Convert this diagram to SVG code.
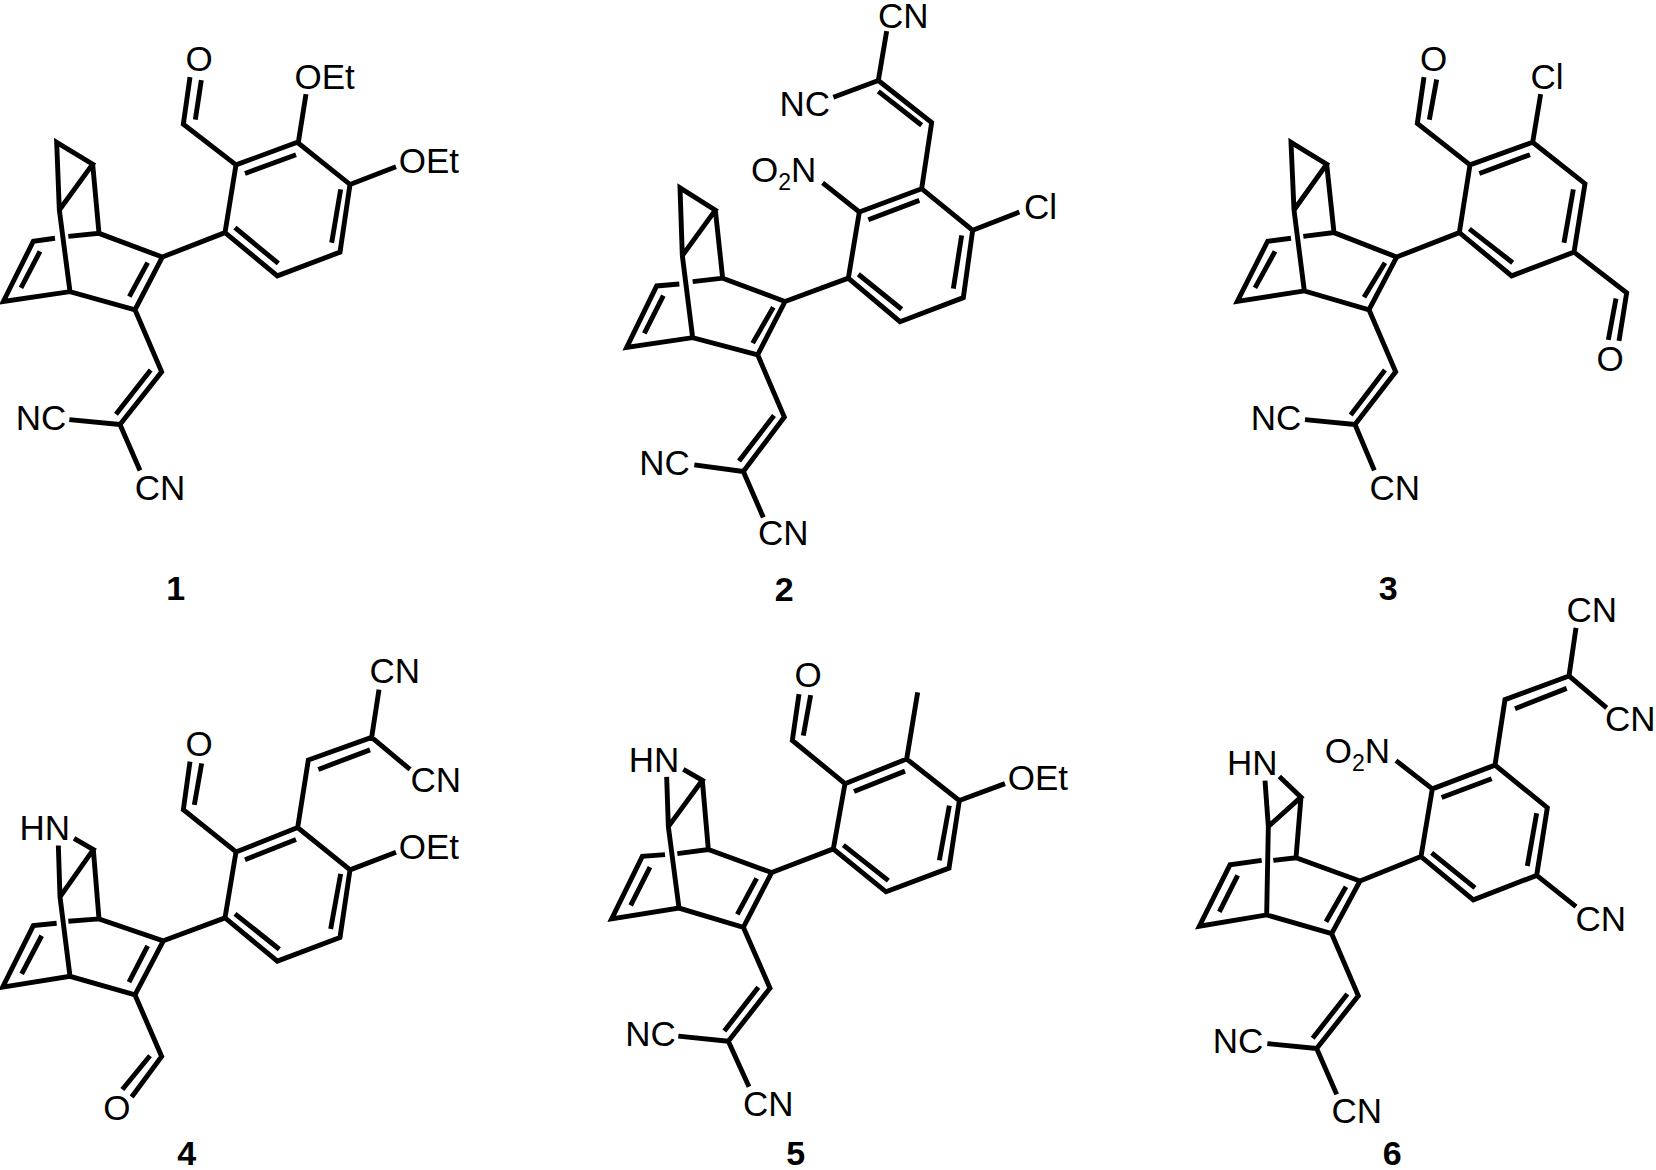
<svg xmlns="http://www.w3.org/2000/svg" width="1656" height="1170" viewBox="0 0 1656 1170">
<style>
path{fill:none;stroke:#000;stroke-width:4.9;vector-effect:non-scaling-stroke;stroke-linejoin:miter;stroke-miterlimit:3}
text{font-family:"Liberation Sans",Arial,sans-serif;font-size:35px;fill:#000}
.n{font-weight:700;font-size:34px;text-anchor:middle}
.s{font-size:23px}
</style>
<rect width="1656" height="1170" fill="#fff"/>
<g id="mol1">
<g class="bonds"><path transform="translate(0,20) scale(.33333,.37628)" d="M170,325L278,383L178,505ZM278,383L297,567M178,505L210,722M205,575L297,567L487,630L405,770L210,722L10,748L100,588L165,580M443,645L388,735M120,615L63,712M487,630L675,565M675,565L708,385L892,325L1050,437L1020,617L832,680ZM735,408L888,358M1022,450L995,592M835,647L705,552M570,152L550,277L708,385M604,160L586,265M918,197L895,325M1050,437L1188,390M405,770L485,935L360,1075M452,930L348,1048M360,1075L208,1062M360,1075L420,1197"/></g>
<text x="185.5" y="70.8">O</text><text x="294.5" y="88.5">OEt</text><text x="398.8" y="173.1">OEt</text><text x="15.8" y="430.2">NC</text><text x="134.8" y="499.8">CN</text><text class="n" x="175.7" y="600.2">1</text>
</g>
<g id="mol2">
<g class="bonds"><path transform="translate(600,0) scale(.33333,.38903)" d="M240,483L346,540L247,657ZM346,540L368,715M247,657L278,868M278,724L368,715L555,775L473,912L278,868L80,893L170,735L238,730M520,790L458,882M190,760L133,857M555,775L745,715M745,715L778,545L965,485L1118,592L1090,765L900,827ZM805,565L958,515M1085,605L1060,742M905,795L775,705M778,545L668,470M965,485L995,315L835,207M965,322L835,235M835,207L860,80M835,207L700,250M1118,592L1258,545M473,912L553,1072L430,1212M522,1068L417,1185M430,1212L283,1195M430,1212L490,1330"/></g>
<text x="751" y="182.1">O<tspan class="s" dy="8">2</tspan><tspan dy="-8">N</tspan></text><text x="878" y="28">CN</text><text x="779.5" y="115.9">NC</text><text x="1024" y="219">Cl</text><text x="639.2" y="475.4">NC</text><text x="758" y="544.6">CN</text><text class="n" x="784.3" y="601">2</text>
</g>
<g id="mol3">
<g class="bonds"><path transform="translate(1220,20) scale(.33333,.37628)" d="M213,325L320,383L222,505ZM320,383L342,565M222,505L253,720M250,575L342,565L530,630L447,770L253,720L52,748L143,588L213,580M495,645L432,737M165,615L105,712M530,630L718,565M718,565L750,385L938,325L1095,435L1062,617L875,680ZM778,408L930,358M1060,450L1032,592M878,645L748,555M612,152L592,275L750,385M650,158L628,265M938,325L962,197M1062,617L1220,725L1197,853M1188,740L1165,850M447,770L527,935L405,1075M495,930L392,1050M405,1075L255,1062M405,1075L463,1197"/></g>
<text x="1420" y="70.8">O</text><text x="1530.5" y="88.5">Cl</text><text x="1596.5" y="371.1">O</text><text x="1250.8" y="430.2">NC</text><text x="1369.5" y="499.8">CN</text><text class="n" x="1388.3" y="599.5">3</text>
</g>
<g id="mol4">
<g class="bonds"><path transform="translate(0,640) scale(.33333,.33801)" d="M222,587L280,620L180,760M175,608L180,760L210,995M280,620L297,825M205,832L297,825L490,890L405,1050L210,995L8,1027L100,845L170,838M443,905L387,1012M125,875L65,988M490,890L675,822M675,822L708,627L893,555L1050,680L1020,880L832,950ZM735,650L888,590M1022,692L992,855M838,915L705,810M570,360L550,502L708,627M605,365L583,488M1050,680L1188,628M893,555L925,355L1115,288M955,383L1110,325M1115,288L1137,147M1115,288L1230,383M405,1050L485,1232L395,1352M450,1230L367,1330"/></g>
<text x="19.5" y="840.1">HN</text><text x="185.5" y="755.6">O</text><text x="398.8" y="858.7">OEt</text><text x="369.5" y="682.9">CN</text><text x="410.5" y="792.1">CN</text><text x="103.2" y="1120">O</text><text class="n" x="186.7" y="1165">4</text>
</g>
<g id="mol5">
<g class="bonds"><path transform="translate(600,640) scale(.33333,.33801)" d="M250,383L307,415L205,552M200,405L205,552L237,793M307,415L325,620M232,632L325,620L515,688L430,850L237,793L35,825L127,640L195,635M470,705L412,812M150,672L92,785M515,688L700,618M700,618L735,425L920,352L1078,475L1047,675L858,745ZM762,448L915,388M1048,490L1018,652M865,712L730,607M597,160L577,297L735,425M632,163L610,283M920,352L953,155M1078,475L1215,425M430,850L510,1030L385,1187M475,1027L373,1157M385,1187L235,1172M385,1187L447,1322"/></g>
<text x="628.8" y="771.8">HN</text><text x="794.5" y="686.6">O</text><text x="1007.8" y="789.7">OEt</text><text x="625.2" y="1046.3">NC</text><text x="743.1" y="1115.9">CN</text><text class="n" x="795.7" y="1165">5</text>
</g>
<g id="mol6">
<g class="bonds"><path transform="translate(1190,580) scale(.33333,.37628)" d="M268,522L333,577L235,655M225,533L235,655L230,890M333,577L318,738M250,745L318,738L510,800L425,940L230,890L28,920L120,757L215,745M468,815L408,908M143,785L88,882M510,800L693,735M693,735L727,555L915,492L1072,605L1040,785L850,850ZM755,578L905,528M1040,620L1012,760M855,818L725,725M727,555L618,480M915,492L945,318L1137,255M975,342L1130,288M1137,255L1158,127M1137,255L1250,340M1040,785L1158,868M425,940L505,1105L380,1245M472,1100L368,1218M380,1245L232,1232M380,1245L440,1367"/></g>
<text x="1227" y="774.9">HN</text><text x="1324.8" y="762.5">O<tspan class="s" dy="8">2</tspan><tspan dy="-8">N</tspan></text><text x="1566.5" y="622.1">CN</text><text x="1605" y="731.3">CN</text><text x="1575.5" y="930.7">CN</text><text x="1212.8" y="1053.4">NC</text><text x="1331.5" y="1123">CN</text><text class="n" x="1392.3" y="1165">6</text>
</g>
</svg>
